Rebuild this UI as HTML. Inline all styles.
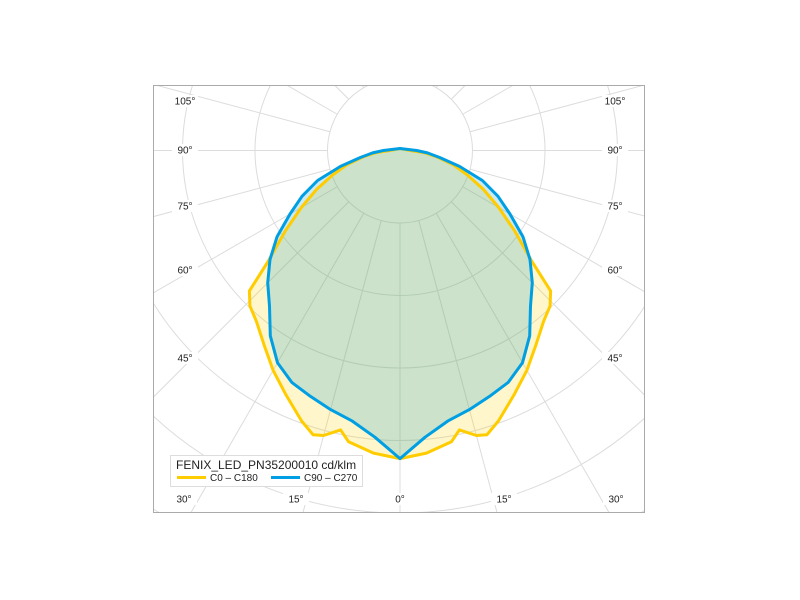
<!DOCTYPE html>
<html><head><meta charset="utf-8"><style>
html,body{margin:0;background:#fff;width:800px;height:600px;overflow:hidden}
svg{display:block}
text{font-family:"Liberation Sans","DejaVu Sans",sans-serif}
</style></head><body>
<svg id="chart" width="800" height="600" viewBox="0 0 800 600">
<defs><clipPath id="clip"><rect x="153" y="85" width="492" height="428"/></clipPath></defs>
<rect x="0" y="0" width="800" height="600" fill="#fff"/>
<g id="grid" clip-path="url(#clip)"></g>
<g id="series" clip-path="url(#clip)"></g>
<g id="labels"></g>
<rect x="153.5" y="85.5" width="491" height="427" fill="none" stroke="#aaa" stroke-width="1"/>
<g>
<rect x="170.5" y="455.5" width="192" height="31" fill="#fff" fill-opacity="0.9" stroke="#ddd"/>
<text x="176" y="469" font-size="12" fill="#222">FENIX_LED_PN35200010 cd/klm</text>
<line x1="177" y1="477.5" x2="206" y2="477.5" stroke="#ffcc00" stroke-width="3"/>
<text x="210" y="481" font-size="10" fill="#222">C0 – C180</text>
<line x1="271" y1="477.5" x2="300" y2="477.5" stroke="#009fe3" stroke-width="3"/>
<text x="304" y="481" font-size="10" fill="#222">C90 – C270</text>
</g>
</svg>
<script>
const ringValues = [100, 200, 300, 400, 500, 600];
const rayAngles = [0, 15, 30, 45, 60, 75, 90, 105, 120, 135, 150, 165, 180];
const labelAngles = [0, 15, 30, 45, 60, 75, 90, 105];
const c0Angles = [0, 5, 10, 12, 15, 17, 20, 25, 30, 35, 40, 44, 47, 50, 55, 60, 65, 70, 75, 80, 85, 90];
const c0Values = [425, 419, 408, 394, 407, 410, 397, 372, 350, 327, 308, 298, 284, 237, 193, 157, 127, 99, 76, 52, 33, 14];
const c90Angles = [0, 5, 10, 15, 20, 25, 30, 35, 40, 45, 50, 55, 60, 65, 70, 75, 80, 85, 90];
const c90Values = [425, 397, 379, 370, 361, 353, 338, 312, 280, 258, 234, 207, 175, 149, 121, 85, 56, 38, 23];

const NS = "http://www.w3.org/2000/svg";
const cx = 400, cy = 150.5, scale = 0.725;
function rScale(v){ return v * scale; }
function pt(angleDeg, v, side){ const a = angleDeg*Math.PI/180; const r = rScale(v); return [cx + side*r*Math.sin(a), cy + r*Math.cos(a)]; }
function mk(tag, attrs){ const e = document.createElementNS(NS, tag); for (const k in attrs) e.setAttribute(k, attrs[k]); return e; }

const grid = document.getElementById('grid');
ringValues.forEach(v => {
  const c = mk('circle', {cx: cx, cy: cy, r: rScale(v), fill: 'none', stroke: '#dcdcdc', 'stroke-width': 1});
  
  
  grid.appendChild(c);
});
rayAngles.forEach(a => {
  [1, -1].forEach(s => {
    const p1 = pt(a, 100, s), p2 = pt(a, 900, s);
    const l = mk('line', {x1: p1[0], y1: p1[1], x2: p2[0], y2: p2[1], stroke: '#dcdcdc', 'stroke-width': 1});
    
    
    grid.appendChild(l);
  });
});

function curvePath(angles, values){
  const pts = [];
  for (let i = 0; i < angles.length; i++) pts.push(pt(angles[i], values[i], -1));
  pts.push([cx, cy - 2]);
  for (let i = angles.length - 1; i >= 0; i--) pts.push(pt(angles[i], values[i], 1));
  return 'M' + pts.map(p => p[0].toFixed(1) + ',' + p[1].toFixed(1)).join('L') + 'Z';
}
const series = document.getElementById('series');
const yFill = mk('path', {d: curvePath(c0Angles, c0Values), fill: 'rgba(255,210,0,0.2)', stroke: 'none'});


series.appendChild(yFill);
const bFill = mk('path', {d: curvePath(c90Angles, c90Values), fill: 'rgba(0,150,200,0.2)', stroke: 'none'});


series.appendChild(bFill);
const yLine = mk('path', {d: curvePath(c0Angles, c0Values), fill: 'none', stroke: '#ffcc00', 'stroke-width': 3, 'stroke-linejoin': 'round'});


series.appendChild(yLine);
const bLine = mk('path', {d: curvePath(c90Angles, c90Values), fill: 'none', stroke: '#009fe3', 'stroke-width': 3, 'stroke-linejoin': 'round'});


series.appendChild(bLine);

function labelPos(a){
  if (a === 0) return [0, 499];
  if (a === 15) return [104, 499];
  if (a === 30) return [216, 499];
  if (a === 45) return [215, 358];
  if (a === 60) return [215, 270];
  if (a === 75) return [215, 206];
  if (a === 90) return [215, 150];
  return [215, 101];
}
const labels = document.getElementById('labels');
labelAngles.forEach(a => {
  const sides = a === 0 ? [1] : [-1, 1];
  sides.forEach(s => {
    const p = labelPos(a);
    const x = cx + s*p[0], y = p[1];
    const bg = mk('rect', {x: x-13, y: y-6, width: 26, height: 12, fill: '#fff'});
    
    
    labels.appendChild(bg);
    const tx = mk('text', {x: x, y: y+3.5, 'font-size': 10, fill: '#222', 'text-anchor': 'middle'});
    tx.textContent = a + '°';
    
    
    labels.appendChild(tx);
  });
});
</script>
</body></html>
